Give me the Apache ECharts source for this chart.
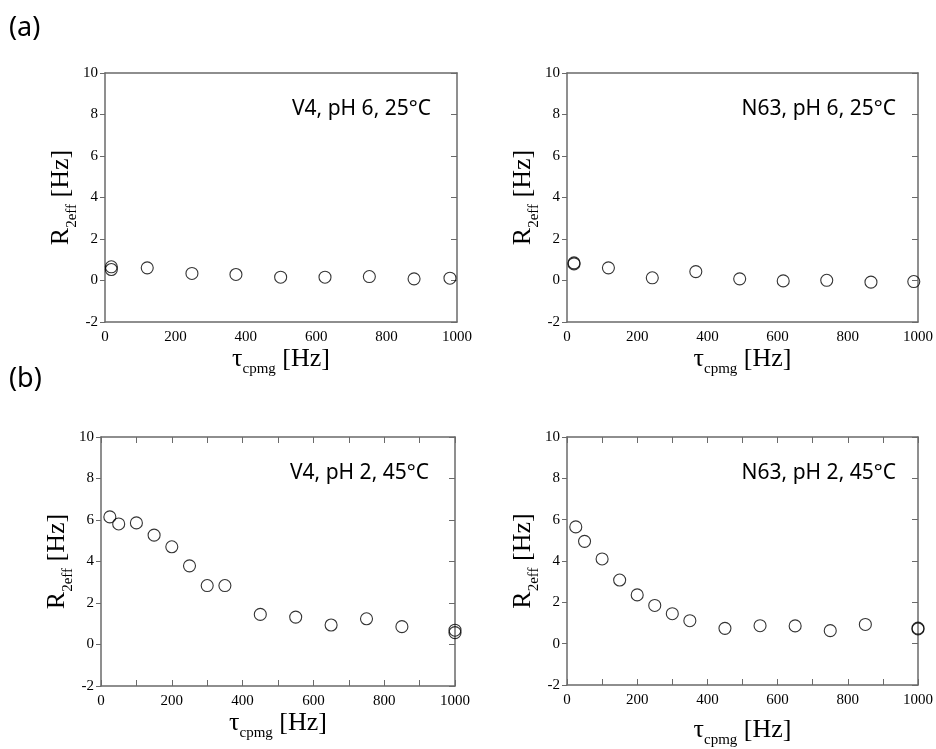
<!DOCTYPE html>
<html>
<head>
<meta charset="utf-8">
<script src="https://cdn.jsdelivr.net/npm/echarts@6/dist/echarts.min.js"></script>
<style>html,body{margin:0;padding:0;background:#fff;}#c{width:936px;height:749px;}</style>
</head>
<body>
<div id="c"></div>
<script>
// ---- data ----
const xA1 = [18, 18, 120, 247, 372, 499, 625, 751, 878, 980];
const yA1 = [0.66, 0.53, 0.61, 0.34, 0.29, 0.16, 0.16, 0.19, 0.08, 0.11];
const xA2 = [20, 20, 118, 243, 367, 492, 616, 740, 866, 988];
const yA2 = [0.85, 0.80, 0.61, 0.13, 0.43, 0.08, -0.02, 0.01, -0.08, -0.05];
const xB1 = [25, 50, 100, 150, 200, 250, 300, 350, 450, 550, 650, 750, 850, 1000, 1000];
const yB1 = [6.15, 5.81, 5.86, 5.27, 4.71, 3.79, 2.84, 2.84, 1.45, 1.32, 0.94, 1.24, 0.86, 0.69, 0.57];
const xB2 = [25, 50, 100, 150, 200, 250, 300, 350, 450, 550, 650, 750, 850, 1000, 1000];
const yB2 = [5.65, 4.95, 4.10, 3.08, 2.36, 1.85, 1.45, 1.11, 0.74, 0.87, 0.86, 0.63, 0.93, 0.75, 0.71];
const panelLabels = ['V4, pH 6, 25°C', 'N63, pH 6, 25°C', 'V4, pH 2, 45°C', 'N63, pH 2, 45°C'];
const rowLabels = ['(a)', '(b)'];
const xRange = [0, 1000];
const yRange = [-2, 10];

const panels = [
  {x: xA1, y: yA1, grid: {left: 105, top: 73, width: 352, height: 249}, xticks: false, xGap: 16},
  {x: xA2, y: yA2, grid: {left: 567, top: 73, width: 355, height: 249}, xticks: false, xGap: 16},
  {x: xB1, y: yB1, grid: {left: 101, top: 437, width: 354, height: 249}, xticks: true, xGap: 17},
  {x: xB2, y: yB2, grid: {left: 567, top: 437, width: 355, height: 249}, xticks: true, xGap: 27}
];

const axisCol = '#6a6a6a';
const serif = 'Liberation Serif';
const nameRich = {
  r: {fontFamily: serif, fontSize: 26, lineHeight: 36, color: '#000'},
  s: {fontFamily: serif, fontSize: 15, lineHeight: 15, verticalAlign: 'bottom', color: '#000'}
};
const lineSt = {color: axisCol, width: 1.5};

const grids = [], xAxes = [], yAxes = [], series = [], graphics = [];
panels.forEach((p, i) => {
  grids.push(Object.assign({containLabel: false}, p.grid));
  xAxes.push({
    type: 'value', gridIndex: i, min: xRange[0], max: xRange[1], interval: 200,
    position: 'bottom',
    axisLine: {show: true, onZero: false, lineStyle: lineSt},
    axisTick: {show: p.xticks, inside: true, length: 6, lineStyle: {color: axisCol}},
    minorTick: {show: p.xticks, splitNumber: 2, length: 6, lineStyle: {color: axisCol}},
    splitLine: {show: false},
    axisLabel: {fontFamily: serif, fontSize: 15, color: '#000', margin: 8, formatter: v => String(v)},
    name: '{r|τ}{s|cpmg}{r| [Hz]}', nameLocation: 'middle', nameGap: p.xGap,
    nameTextStyle: {rich: nameRich}
  });
  xAxes.push({
    type: 'value', gridIndex: i, min: xRange[0], max: xRange[1], interval: 200,
    position: 'top',
    axisLine: {show: true, onZero: false, lineStyle: lineSt},
    axisTick: {show: p.xticks, inside: true, length: 6, lineStyle: {color: axisCol}},
    minorTick: {show: p.xticks, splitNumber: 2, length: 6, lineStyle: {color: axisCol}},
    splitLine: {show: false},
    axisLabel: {show: false}
  });
  yAxes.push({
    type: 'value', gridIndex: i, min: yRange[0], max: yRange[1], interval: 2,
    position: 'left',
    axisLine: {show: true, onZero: false, lineStyle: lineSt},
    axisTick: {show: true, inside: false, length: 5, lineStyle: {color: axisCol}},
    splitLine: {show: false},
    axisLabel: {fontFamily: serif, fontSize: 15, color: '#000', margin: 7},
    name: '{r|R}{s|2eff}{r| [Hz]}', nameLocation: 'middle', nameRotate: 90, nameGap: 24,
    nameTextStyle: {rich: nameRich}
  });
  yAxes.push({
    type: 'value', gridIndex: i, min: yRange[0], max: yRange[1], interval: 2,
    position: 'right',
    axisLine: {show: true, onZero: false, lineStyle: lineSt},
    axisTick: {show: true, inside: true, length: 6, lineStyle: {color: axisCol}},
    splitLine: {show: false},
    axisLabel: {show: false}
  });
  series.push({
    type: 'scatter', xAxisIndex: 2 * i, yAxisIndex: 2 * i,
    data: p.x.map((v, k) => [v, p.y[k]]),
    symbol: 'circle', symbolSize: 12, clip: false,
    itemStyle: {color: 'rgba(255,255,255,0)', borderColor: '#000', borderWidth: 1.1}
  });
  graphics.push({
    type: 'text',
    right: 936 - (p.grid.left + p.grid.width) + 26,
    top: p.grid.top + 26,
    style: {text: panelLabels[i], font: '21px "Noto Sans"', fill: '#000'}
  });
});
graphics.push({type: 'text', left: 9, top: 15, style: {text: rowLabels[0], font: '27px "Noto Sans"', fill: '#000'}});
graphics.push({type: 'text', left: 9, top: 366, style: {text: rowLabels[1], font: '27px "Noto Sans"', fill: '#000'}});

const chart = echarts.init(document.getElementById('c'), null, {renderer: 'canvas'});
chart.setOption({
  animation: false,
  backgroundColor: '#fff',
  grid: grids, xAxis: xAxes, yAxis: yAxes, series: series, graphic: graphics
});
</script>
</body>
</html>
